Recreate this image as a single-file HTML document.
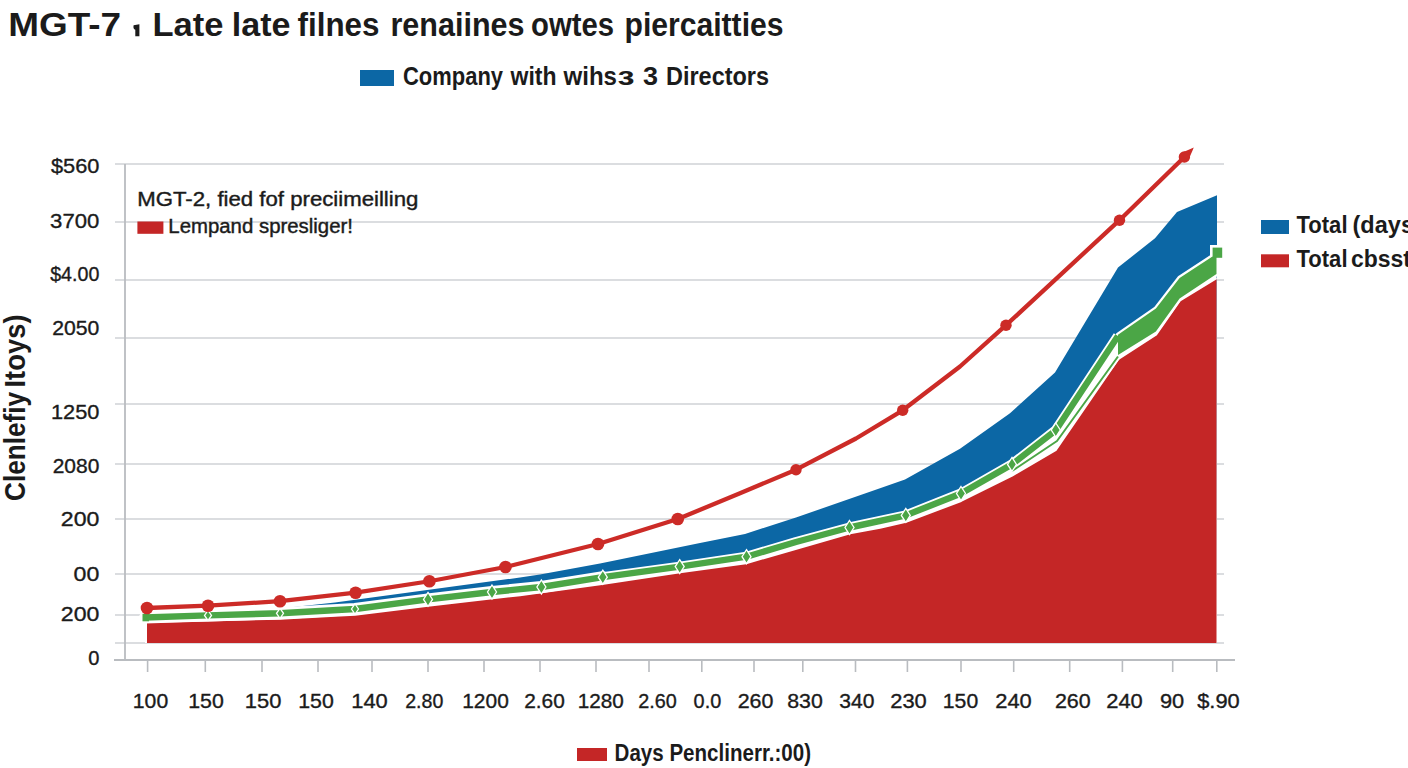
<!DOCTYPE html>
<html><head><meta charset="utf-8"><style>
html,body{margin:0;padding:0;background:#fff;}
body{width:1408px;height:768px;overflow:hidden;position:relative;}
svg{position:absolute;left:0;top:0;font-family:"Liberation Sans",sans-serif;}
</style></head><body>
<svg width="1408" height="768" viewBox="0 0 1408 768">
<line x1="115" y1="164" x2="1224" y2="164" stroke="#cfd2d6" stroke-width="1.6"/>
<line x1="115" y1="222" x2="1224" y2="222" stroke="#cfd2d6" stroke-width="1.6"/>
<line x1="115" y1="280" x2="1224" y2="280" stroke="#cfd2d6" stroke-width="1.6"/>
<line x1="115" y1="338" x2="1224" y2="338" stroke="#cfd2d6" stroke-width="1.6"/>
<line x1="115" y1="404" x2="1224" y2="404" stroke="#cfd2d6" stroke-width="1.6"/>
<line x1="115" y1="464" x2="1224" y2="464" stroke="#cfd2d6" stroke-width="1.6"/>
<line x1="115" y1="519" x2="1224" y2="519" stroke="#cfd2d6" stroke-width="1.6"/>
<line x1="115" y1="574" x2="1224" y2="574" stroke="#cfd2d6" stroke-width="1.6"/>
<line x1="115" y1="615" x2="1224" y2="615" stroke="#cfd2d6" stroke-width="1.6"/>
<line x1="115" y1="643" x2="1224" y2="643" stroke="#cfd2d6" stroke-width="1.6"/>
<line x1="125" y1="164" x2="125" y2="660" stroke="#b9bcc0" stroke-width="1.8"/>
<line x1="114" y1="660" x2="1235" y2="660" stroke="#b9bcc0" stroke-width="2"/>
<line x1="147.6" y1="660" x2="147.6" y2="672" stroke="#b9bcc0" stroke-width="1.6"/>
<line x1="205.3" y1="660" x2="205.3" y2="672" stroke="#b9bcc0" stroke-width="1.6"/>
<line x1="262" y1="660" x2="262" y2="672" stroke="#b9bcc0" stroke-width="1.6"/>
<line x1="318" y1="660" x2="318" y2="672" stroke="#b9bcc0" stroke-width="1.6"/>
<line x1="372" y1="660" x2="372" y2="672" stroke="#b9bcc0" stroke-width="1.6"/>
<line x1="428" y1="660" x2="428" y2="672" stroke="#b9bcc0" stroke-width="1.6"/>
<line x1="484" y1="660" x2="484" y2="672" stroke="#b9bcc0" stroke-width="1.6"/>
<line x1="540" y1="660" x2="540" y2="672" stroke="#b9bcc0" stroke-width="1.6"/>
<line x1="596" y1="660" x2="596" y2="672" stroke="#b9bcc0" stroke-width="1.6"/>
<line x1="649" y1="660" x2="649" y2="672" stroke="#b9bcc0" stroke-width="1.6"/>
<line x1="701.8" y1="660" x2="701.8" y2="672" stroke="#b9bcc0" stroke-width="1.6"/>
<line x1="754" y1="660" x2="754" y2="672" stroke="#b9bcc0" stroke-width="1.6"/>
<line x1="802.8" y1="660" x2="802.8" y2="672" stroke="#b9bcc0" stroke-width="1.6"/>
<line x1="855.5" y1="660" x2="855.5" y2="672" stroke="#b9bcc0" stroke-width="1.6"/>
<line x1="907.4" y1="660" x2="907.4" y2="672" stroke="#b9bcc0" stroke-width="1.6"/>
<line x1="961" y1="660" x2="961" y2="672" stroke="#b9bcc0" stroke-width="1.6"/>
<line x1="1013.7" y1="660" x2="1013.7" y2="672" stroke="#b9bcc0" stroke-width="1.6"/>
<line x1="1069.7" y1="660" x2="1069.7" y2="672" stroke="#b9bcc0" stroke-width="1.6"/>
<line x1="1122.4" y1="660" x2="1122.4" y2="672" stroke="#b9bcc0" stroke-width="1.6"/>
<line x1="1172.7" y1="660" x2="1172.7" y2="672" stroke="#b9bcc0" stroke-width="1.6"/>
<line x1="1216.8" y1="660" x2="1216.8" y2="672" stroke="#b9bcc0" stroke-width="1.6"/>
<polygon points="147,615 208,613.5 280,608.6 335,602.6 520,577.5 540,574.4 600,563.4 700,543 745,534 796,517.5 880,488.3 905,479.6 960,448.75 1010,413.3 1055,372.5 1118,267.5 1155,238.3 1177,212 1217,195.3 1217,643 147,643" fill="#0c67a5"/>
<polygon points="145,617.5 208,615.4 280,613.3 355,609 428,599.4 492,592 541.4,587 602.8,577.2 679.7,566.6 746.5,556.7 796,542 849.5,527.5 905.8,515.4 961,493.5 1012,464.4 1055.8,430.2 1118,334.8 1155.9,308.6 1179.6,278 1211.7,257 1216.5,255 1217,643 145,643" fill="#fff"/>
<polygon points="147,621.5 208,620.3 280,618.5 335,615.5 355,614.5 428,605.6 520,595 602,583.75 680,572 746,563 850,533 880,527.5 906,521.7 961,500.8 1012,475.5 1055.5,450 1118,359 1155.9,334.5 1179.6,300.5 1216.5,278 1216.5,643 147,643" fill="#c42626"/>
<polyline points="147,621.5 208,620.3 280,618.5 335,615.5 355,614.5 428,605.6 520,595 602,583.75 680,572 746,563 850,533 880,527.5 906,521.7 961,500.8 1012,475.5 1055.5,450 1118,359 1155.9,334.5 1179.6,300.5 1216.5,278" fill="none" stroke="#fff" stroke-width="2.4" stroke-linejoin="round"/>
<polyline points="1012,471 1057,441 1118,356.5" fill="none" stroke="#fff" stroke-width="5.5" stroke-linejoin="round"/>
<polygon points="1118,334.8 1155.9,308.6 1179.6,278 1211.7,257 1216.5,255 1216.5,273.9 1179.6,298.4 1155.9,331.4 1118,355" fill="#fff" stroke="#fff" stroke-width="4.5" stroke-linejoin="round"/>
<polyline points="145,617.5 208,615.4 280,613.3 355,609 428,599.4 492,592 541.4,587 602.8,577.2 679.7,566.6 746.5,556.7 796,542 849.5,527.5 905.8,515.4 961,493.5 1012,464.4 1055.8,430.2 1118,336" fill="none" stroke="#fff" stroke-width="10" stroke-linejoin="round"/>
<polyline points="145,617.5 208,615.4 280,613.3 355,609 428,599.4 492,592 541.4,587 602.8,577.2" fill="none" stroke="#fff" stroke-width="12" stroke-linejoin="round" stroke-linecap="round"/>
<rect x="1210" y="245" width="14" height="14" fill="#fff"/>
<polyline points="1012,471 1057,441 1118,356.5" fill="none" stroke="#4ba646" stroke-width="2" stroke-linejoin="round"/>
<polygon points="1118,334.8 1155.9,308.6 1179.6,278 1211.7,257 1216.5,255 1216.5,273.9 1179.6,298.4 1155.9,331.4 1118,355" fill="#4ba646"/>
<polyline points="145,617.5 208,615.4 280,613.3 355,609 428,599.4 492,592 541.4,587 602.8,577.2 679.7,566.6 746.5,556.7 796,542 849.5,527.5 905.8,515.4 961,493.5 1012,464.4 1055.8,430.2 1118,336" fill="none" stroke="#4ba646" stroke-width="6.4" stroke-linejoin="round"/>
<polygon points="208,610.4 211.5,615.4 208,620.4 204.5,615.4" fill="#4ba646" stroke="#fff" stroke-width="1.3"/>
<polygon points="280,608.3 283.5,613.3 280,618.3 276.5,613.3" fill="#4ba646" stroke="#fff" stroke-width="1.3"/>
<polygon points="355,604 358.5,609 355,614 351.5,609" fill="#4ba646" stroke="#fff" stroke-width="1.3"/>
<polygon points="428,592.4 432.5,599.4 428,606.4 423.5,599.4" fill="#4ba646" stroke="#fff" stroke-width="1.3"/>
<polygon points="492,585 496.5,592 492,599 487.5,592" fill="#4ba646" stroke="#fff" stroke-width="1.3"/>
<polygon points="541.4,580 545.9,587 541.4,594 536.9,587" fill="#4ba646" stroke="#fff" stroke-width="1.3"/>
<polygon points="602.8,570.2 607.3,577.2 602.8,584.2 598.3,577.2" fill="#4ba646" stroke="#fff" stroke-width="1.3"/>
<polygon points="679.7,559.6 684.2,566.6 679.7,573.6 675.2,566.6" fill="#4ba646" stroke="#fff" stroke-width="1.3"/>
<polygon points="746.5,549.7 751.0,556.7 746.5,563.7 742.0,556.7" fill="#4ba646" stroke="#fff" stroke-width="1.3"/>
<polygon points="849.5,520.5 854.0,527.5 849.5,534.5 845.0,527.5" fill="#4ba646" stroke="#fff" stroke-width="1.3"/>
<polygon points="905.8,508.4 910.3,515.4 905.8,522.4 901.3,515.4" fill="#4ba646" stroke="#fff" stroke-width="1.3"/>
<polygon points="961,486.5 965.5,493.5 961,500.5 956.5,493.5" fill="#4ba646" stroke="#fff" stroke-width="1.3"/>
<polygon points="1012,457.4 1016.5,464.4 1012,471.4 1007.5,464.4" fill="#4ba646" stroke="#fff" stroke-width="1.3"/>
<polygon points="1055.8,423 1060.3,430 1055.8,437 1051.3,430" fill="#4ba646" stroke="#fff" stroke-width="1.3"/>
<rect x="1212.6" y="247.6" width="9.6" height="10.2" fill="#4ba646"/>
<rect x="142.5" y="613.8" width="6.5" height="7.5" fill="#4ba646"/>
<polyline points="147,608 208,605.7 280,601.2 355.6,592.7 429.4,581.25 505.5,567 598,544 677.8,519 740,493.3 796,469.7 856,438.5 902.7,410.3 960,366.5 1006,325.2 1119.5,220.2 1184.4,157" fill="none" stroke="#cc2b27" stroke-width="4.3" stroke-linejoin="round"/>
<circle cx="147" cy="608" r="6.3" fill="#cc2b27"/>
<circle cx="208" cy="605.7" r="6.3" fill="#cc2b27"/>
<circle cx="280" cy="601.2" r="6.3" fill="#cc2b27"/>
<circle cx="355.6" cy="592.7" r="6.3" fill="#cc2b27"/>
<circle cx="429.4" cy="581.25" r="6.3" fill="#cc2b27"/>
<circle cx="505.5" cy="567" r="6.3" fill="#cc2b27"/>
<circle cx="598" cy="544" r="6.3" fill="#cc2b27"/>
<circle cx="677.8" cy="519" r="6.3" fill="#cc2b27"/>
<circle cx="796" cy="469.7" r="5.7" fill="#cc2b27"/>
<circle cx="902.7" cy="410.3" r="5.7" fill="#cc2b27"/>
<circle cx="1006" cy="325.2" r="5.7" fill="#cc2b27"/>
<circle cx="1119.5" cy="220.2" r="5.7" fill="#cc2b27"/>
<circle cx="1184.4" cy="157" r="5.7" fill="#cc2b27"/>
<polygon points="1180.6,153.3 1193.8,147.6 1188.1,160.8" fill="#cc2b27"/>
<text x="8.2" y="35.8" font-size="34" font-weight="700" fill="#1b1b1b" textLength="112.8" lengthAdjust="spacingAndGlyphs" >MGT-7</text>
<text x="152.5" y="35.8" font-size="34" font-weight="700" fill="#1b1b1b" textLength="71.0" lengthAdjust="spacingAndGlyphs" >Late</text>
<text x="231.8" y="35.8" font-size="34" font-weight="700" fill="#1b1b1b" textLength="58.69999999999999" lengthAdjust="spacingAndGlyphs" >late</text>
<text x="297.5" y="35.8" font-size="34" font-weight="700" fill="#1b1b1b" textLength="82.0" lengthAdjust="spacingAndGlyphs" >filnes</text>
<text x="390.5" y="35.8" font-size="34" font-weight="700" fill="#1b1b1b" textLength="134.0" lengthAdjust="spacingAndGlyphs" >renaiines</text>
<text x="531" y="35.8" font-size="34" font-weight="700" fill="#1b1b1b" textLength="83" lengthAdjust="spacingAndGlyphs" >owtes</text>
<text x="624.5" y="35.8" font-size="34" font-weight="700" fill="#1b1b1b" textLength="159.0" lengthAdjust="spacingAndGlyphs" >piercaitties</text>
<path d="M133.6,25.2 L139.4,24.3 L139.4,36.3 L135.3,36.3 L135.3,29.8 Q133.6,29.4 133.4,27.2 Z" fill="#1b1b1b"/>
<rect x="360" y="70" width="34" height="16" fill="#0c67a5"/>
<text x="403" y="84.8" font-size="25" font-weight="700" fill="#1b1b1b" textLength="100" lengthAdjust="spacingAndGlyphs" >Company</text>
<text x="510.5" y="84.8" font-size="25" font-weight="700" fill="#1b1b1b" textLength="46.0" lengthAdjust="spacingAndGlyphs" >with</text>
<text x="563.5" y="84.8" font-size="25" font-weight="700" fill="#1b1b1b" textLength="53.5" lengthAdjust="spacingAndGlyphs" >wihs</text>
<text x="617.5" y="84.8" font-size="25" font-weight="700" fill="#1b1b1b" textLength="17.0" lengthAdjust="spacingAndGlyphs" >з</text>
<text x="643" y="84.8" font-size="25" font-weight="700" fill="#1b1b1b" textLength="15" lengthAdjust="spacingAndGlyphs" >3</text>
<text x="666" y="84.8" font-size="25" font-weight="700" fill="#1b1b1b" textLength="103" lengthAdjust="spacingAndGlyphs" >Directors</text>
<text x="50.900000000000006" y="172.5" font-size="20.5" font-weight="400" fill="#1b1b1b" stroke="#1b1b1b" stroke-width="0.35" textLength="48.49999999999999" lengthAdjust="spacingAndGlyphs" >$560</text>
<text x="50.1" y="227.5" font-size="20.5" font-weight="400" fill="#1b1b1b" stroke="#1b1b1b" stroke-width="0.35" textLength="49.3" lengthAdjust="spacingAndGlyphs" >3700</text>
<text x="50.2" y="280.5" font-size="20.5" font-weight="400" fill="#1b1b1b" stroke="#1b1b1b" stroke-width="0.35" textLength="49.199999999999996" lengthAdjust="spacingAndGlyphs" >$4.00</text>
<text x="52.2" y="334.9" font-size="20.5" font-weight="400" fill="#1b1b1b" stroke="#1b1b1b" stroke-width="0.35" textLength="47.199999999999996" lengthAdjust="spacingAndGlyphs" >2050</text>
<text x="50.900000000000006" y="419.0" font-size="20.5" font-weight="400" fill="#1b1b1b" stroke="#1b1b1b" stroke-width="0.35" textLength="48.49999999999999" lengthAdjust="spacingAndGlyphs" >1250</text>
<text x="52.7" y="472.9" font-size="20.5" font-weight="400" fill="#1b1b1b" stroke="#1b1b1b" stroke-width="0.35" textLength="46.699999999999996" lengthAdjust="spacingAndGlyphs" >2080</text>
<text x="60.800000000000004" y="525.8" font-size="20.5" font-weight="400" fill="#1b1b1b" stroke="#1b1b1b" stroke-width="0.35" textLength="38.599999999999994" lengthAdjust="spacingAndGlyphs" >200</text>
<text x="73.60000000000001" y="580.5" font-size="20.5" font-weight="400" fill="#1b1b1b" stroke="#1b1b1b" stroke-width="0.35" textLength="25.79999999999999" lengthAdjust="spacingAndGlyphs" >00</text>
<text x="60.800000000000004" y="621.3" font-size="20.5" font-weight="400" fill="#1b1b1b" stroke="#1b1b1b" stroke-width="0.35" textLength="38.599999999999994" lengthAdjust="spacingAndGlyphs" >200</text>
<text x="88.2" y="664.5" font-size="20.5" font-weight="400" fill="#1b1b1b" stroke="#1b1b1b" stroke-width="0.35" textLength="11.199999999999994" lengthAdjust="spacingAndGlyphs" >0</text>
<text x="132.79999999999998" y="708.3" font-size="20.5" font-weight="400" fill="#1b1b1b" stroke="#1b1b1b" stroke-width="0.35" textLength="35.40000000000001" lengthAdjust="spacingAndGlyphs" >100</text>
<text x="188.2" y="708.3" font-size="20.5" font-weight="400" fill="#1b1b1b" stroke="#1b1b1b" stroke-width="0.35" textLength="35.6" lengthAdjust="spacingAndGlyphs" >150</text>
<text x="244.79999999999998" y="708.3" font-size="20.5" font-weight="400" fill="#1b1b1b" stroke="#1b1b1b" stroke-width="0.35" textLength="36.60000000000003" lengthAdjust="spacingAndGlyphs" >150</text>
<text x="298.2" y="708.3" font-size="20.5" font-weight="400" fill="#1b1b1b" stroke="#1b1b1b" stroke-width="0.35" textLength="35.6" lengthAdjust="spacingAndGlyphs" >150</text>
<text x="351.2" y="708.3" font-size="20.5" font-weight="400" fill="#1b1b1b" stroke="#1b1b1b" stroke-width="0.35" textLength="36.6" lengthAdjust="spacingAndGlyphs" >140</text>
<text x="405.2" y="708.3" font-size="20.5" font-weight="400" fill="#1b1b1b" stroke="#1b1b1b" stroke-width="0.35" textLength="38.1" lengthAdjust="spacingAndGlyphs" >2.80</text>
<text x="462.2" y="708.3" font-size="20.5" font-weight="400" fill="#1b1b1b" stroke="#1b1b1b" stroke-width="0.35" textLength="46.6" lengthAdjust="spacingAndGlyphs" >1200</text>
<text x="524.2" y="708.3" font-size="20.5" font-weight="400" fill="#1b1b1b" stroke="#1b1b1b" stroke-width="0.35" textLength="40.6" lengthAdjust="spacingAndGlyphs" >2.60</text>
<text x="577.7" y="708.3" font-size="20.5" font-weight="400" fill="#1b1b1b" stroke="#1b1b1b" stroke-width="0.35" textLength="46.1" lengthAdjust="spacingAndGlyphs" >1280</text>
<text x="638.2" y="708.3" font-size="20.5" font-weight="400" fill="#1b1b1b" stroke="#1b1b1b" stroke-width="0.35" textLength="38.6" lengthAdjust="spacingAndGlyphs" >2.60</text>
<text x="693.6" y="708.3" font-size="20.5" font-weight="400" fill="#1b1b1b" stroke="#1b1b1b" stroke-width="0.35" textLength="27.6" lengthAdjust="spacingAndGlyphs" >0.0</text>
<text x="737.7" y="708.3" font-size="20.5" font-weight="400" fill="#1b1b1b" stroke="#1b1b1b" stroke-width="0.35" textLength="35.80000000000005" lengthAdjust="spacingAndGlyphs" >260</text>
<text x="787.2" y="708.3" font-size="20.5" font-weight="400" fill="#1b1b1b" stroke="#1b1b1b" stroke-width="0.35" textLength="35.6" lengthAdjust="spacingAndGlyphs" >830</text>
<text x="839.2" y="708.3" font-size="20.5" font-weight="400" fill="#1b1b1b" stroke="#1b1b1b" stroke-width="0.35" textLength="35.200000000000024" lengthAdjust="spacingAndGlyphs" >340</text>
<text x="890.2" y="708.3" font-size="20.5" font-weight="400" fill="#1b1b1b" stroke="#1b1b1b" stroke-width="0.35" textLength="36.6" lengthAdjust="spacingAndGlyphs" >230</text>
<text x="942.8000000000001" y="708.3" font-size="20.5" font-weight="400" fill="#1b1b1b" stroke="#1b1b1b" stroke-width="0.35" textLength="35.399999999999956" lengthAdjust="spacingAndGlyphs" >150</text>
<text x="995.2" y="708.3" font-size="20.5" font-weight="400" fill="#1b1b1b" stroke="#1b1b1b" stroke-width="0.35" textLength="36.6" lengthAdjust="spacingAndGlyphs" >240</text>
<text x="1054.9" y="708.3" font-size="20.5" font-weight="400" fill="#1b1b1b" stroke="#1b1b1b" stroke-width="0.35" textLength="35.899999999999956" lengthAdjust="spacingAndGlyphs" >260</text>
<text x="1106.2" y="708.3" font-size="20.5" font-weight="400" fill="#1b1b1b" stroke="#1b1b1b" stroke-width="0.35" textLength="36.6" lengthAdjust="spacingAndGlyphs" >240</text>
<text x="1159.9" y="708.3" font-size="20.5" font-weight="400" fill="#1b1b1b" stroke="#1b1b1b" stroke-width="0.35" textLength="24.300000000000047" lengthAdjust="spacingAndGlyphs" >90</text>
<text x="1197.2" y="708.3" font-size="20.5" font-weight="400" fill="#1b1b1b" stroke="#1b1b1b" stroke-width="0.35" textLength="42.6" lengthAdjust="spacingAndGlyphs" >$.90</text>
<text x="137.3" y="205.5" font-size="20" font-weight="400" fill="#1b1b1b" stroke="#1b1b1b" stroke-width="0.4" textLength="281.09999999999997" lengthAdjust="spacingAndGlyphs" >MGT-2, fied fof preciimeilling</text>
<rect x="137.4" y="221.5" width="26" height="12.3" fill="#c42626"/>
<text x="168.3" y="233.3" font-size="19.5" font-weight="400" fill="#1b1b1b" stroke="#1b1b1b" stroke-width="0.4" textLength="184.7" lengthAdjust="spacingAndGlyphs" >Lempand spresliger!</text>
<rect x="1261" y="220" width="28" height="14" fill="#0c67a5"/>
<text x="1296.5" y="232.8" font-size="23" font-weight="700" fill="#1b1b1b" textLength="51.0" lengthAdjust="spacingAndGlyphs" >Total</text>
<text x="1352.5" y="232.8" font-size="23" font-weight="700" fill="#1b1b1b" textLength="61.5" lengthAdjust="spacingAndGlyphs" >(days</text>
<rect x="1261" y="254.3" width="28" height="13" fill="#c42626"/>
<text x="1296.5" y="266.8" font-size="23" font-weight="700" fill="#1b1b1b" textLength="51.0" lengthAdjust="spacingAndGlyphs" >Total</text>
<text x="1351" y="266.8" font-size="23" font-weight="700" fill="#1b1b1b" textLength="60" lengthAdjust="spacingAndGlyphs" >cbsst</text>
<rect x="577" y="748" width="30" height="13" fill="#c42626"/>
<text x="614.6" y="761.4" font-size="23" font-weight="700" fill="#1b1b1b" textLength="196.39999999999998" lengthAdjust="spacingAndGlyphs" >Days Penclinerr.:00)</text>
<g transform="translate(24.5,500.5) rotate(-90)"><text x="-0.5" y="0" font-size="29" font-weight="700" fill="#1b1b1b" textLength="109" lengthAdjust="spacingAndGlyphs" >Clenlefiy</text><text x="113" y="0" font-size="29" font-weight="700" fill="#1b1b1b" textLength="73" lengthAdjust="spacingAndGlyphs" >Itoys)</text></g>
</svg>
</body></html>
